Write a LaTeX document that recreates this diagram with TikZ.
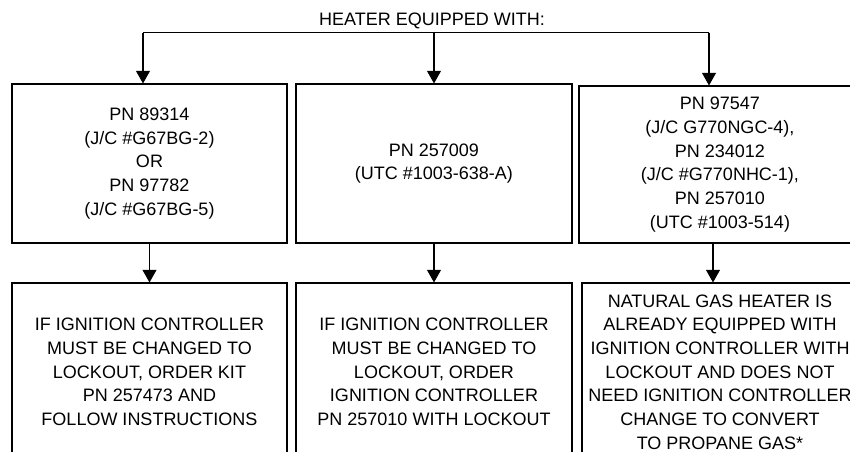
\documentclass[tikz,border=0pt]{standalone}
\usepackage{fontspec}
\setmainfont{Liberation Sans}
\usetikzlibrary{arrows.meta}

\begin{document}
\begin{tikzpicture}[x=0.75pt,y=-0.75pt,
  box/.style={draw,line width=0.8pt,align=center,inner sep=0pt,
    font=\fontsize{13.5}{17.8}\selectfont},
  arr/.style={line width=0.8pt,-{Triangle[width=10.5pt,length=9.5pt]}}]
  \fill[white] (0,0) rectangle (850,451);
  \useasboundingbox (0,0) rectangle (850,451);
  \clip (0,0) rectangle (850,451);
  \node[font=\fontsize{13.5}{17.8}\selectfont] (title) at (432,21) {HEATER EQUIPPED WITH:};
  \coordinate (busL) at (143,32.5);
  \coordinate (busR) at (709,32.5);
  \node[box,minimum width=206.25pt,minimum height=119.25pt] (topL) at (149.5,163.5)
  {PN 89314\\(J/C \#G67BG-2)\\OR\\PN 97782\\(J/C \#G67BG-5)};
  \node[box,minimum width=207pt,minimum height=119.25pt] (topM) at (434,163.5)
  {PN 257009\\(UTC \#1003-638-A)};
  \node[box,minimum width=211.5pt,minimum height=117.75pt] (topR) at (720,164.5)
  {PN 97547\\(J/C G770NGC-4),\\PN 234012\\(J/C \#G770NHC-1),\\PN 257010\\(UTC \#1003-514)};
  \node[box,minimum width=206.25pt,minimum height=133.5pt] (botL) at (149.5,372)
  {IF IGNITION CONTROLLER\\MUST BE CHANGED TO\\LOCKOUT, ORDER KIT\\PN 257473 AND\\FOLLOW INSTRUCTIONS};
  \node[box,minimum width=207pt,minimum height=133.5pt] (botM) at (434,372)
  {IF IGNITION CONTROLLER\\MUST BE CHANGED TO\\LOCKOUT, ORDER\\IGNITION CONTROLLER\\PN 257010 WITH LOCKOUT};
  \node[box,minimum width=207pt,minimum height=133.5pt] (botR) at (720,372)
  {NATURAL GAS HEATER IS\\ALREADY EQUIPPED WITH\\IGNITION CONTROLLER WITH\\LOCKOUT AND DOES NOT\\NEED IGNITION CONTROLLER\\CHANGE TO CONVERT\\TO PROPANE GAS*};
  % feed line from the title
  \draw[line width=0.8pt] (busL) -- (busR);
  \draw[arr] (busL) -- (busL |- topL.north);
  \draw[arr] (topM.north |- busL) -- (topM.north);
  \draw[arr] (busR) -- (busR |- topR.north);
  % second row
  \draw[arr] (topL.south) -- (botL.north);
  \draw[arr] (topM.south) -- (botM.north);
  \draw[arr] ([xshift=-5.25pt]topR.south) -- ([xshift=-5.25pt]topR.south |- botR.north);
\end{tikzpicture}
\end{document}
